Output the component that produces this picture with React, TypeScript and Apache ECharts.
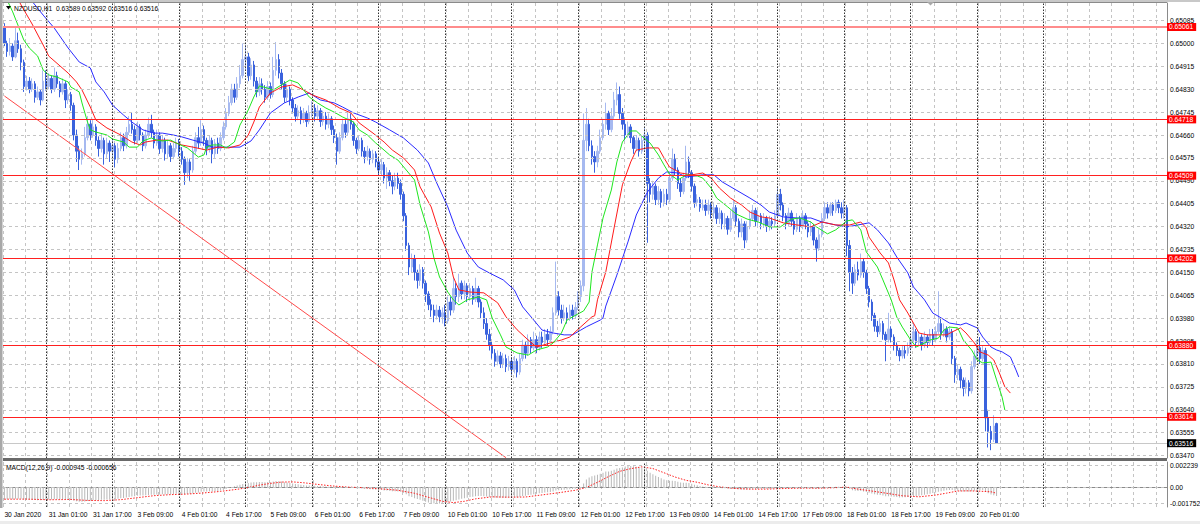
import React, { useEffect, useRef } from "react";
import * as echarts from "echarts";

// ---------------- axis / reference data ----------------
const slotCount = 420; // hourly slots on the time axis (incl. empty future area)
const xTickLabels = [
  "30 Jan 2020", "31 Jan 01:00", "31 Jan 17:00", "3 Feb 09:00", "4 Feb 01:00", "4 Feb 17:00",
  "5 Feb 09:00", "6 Feb 01:00", "6 Feb 17:00", "7 Feb 09:00", "10 Feb 01:00", "10 Feb 17:00",
  "11 Feb 09:00", "12 Feb 01:00", "12 Feb 17:00", "13 Feb 09:00", "14 Feb 01:00", "14 Feb 17:00",
  "17 Feb 09:00", "18 Feb 01:00", "18 Feb 17:00", "19 Feb 09:00", "20 Feb 01:00",
];
const daySeparators = [15, 39, 63, 87, 111, 135, 159, 183, 207, 231, 255, 279, 303, 327, 351, 375];
const priceTicks = [
  0.65085, 0.65, 0.64915, 0.6483, 0.64745, 0.6466, 0.64575, 0.6449, 0.64405, 0.6432,
  0.64235, 0.6415, 0.64065, 0.6398, 0.63895, 0.6381, 0.63725, 0.6364, 0.63555, 0.6347,
];
const topLevel = 0.65061; // highlighted (selected) level
const redLevels = [0.64718, 0.64509, 0.64202, 0.6388, 0.63614];
const bidLevel = 0.63516;
const macdTicks = [0.002239, 0, -0.001752];
const macdTickLabels = ["0.002239", "0.00", "-0.001752"];

// ---------------- candles per day: [open, close, low, high] ----------------
const d30Jan = [[0.6506,0.65,0.6499,0.65075],[0.65,0.6497,0.6495,0.6501],[0.6497,0.6499,0.64955,0.6502],[0.6499,0.6495,0.64935,0.65],[0.6495,0.6501,0.64945,0.6506],[0.6501,0.6498,0.64965,0.6504],[0.6498,0.6493,0.649,0.64995],[0.6493,0.6484,0.6482,0.6494],[0.6484,0.6486,0.64825,0.6488],[0.6486,0.6483,0.64815,0.64875],[0.6483,0.6485,0.6482,0.6487],[0.6485,0.648,0.6478,0.6486],[0.648,0.6482,0.6479,0.6484],[0.6482,0.6479,0.6477,0.6483],[0.6479,0.6486,0.64785,0.649]];
const d31Jan = [[0.6486,0.6484,0.64825,0.649],[0.6484,0.6487,0.6483,0.6489],[0.6487,0.6483,0.64815,0.6488],[0.6483,0.6488,0.6482,0.6491],[0.6488,0.6485,0.64835,0.64895],[0.6485,0.6482,0.648,0.6486],[0.6482,0.6485,0.6481,0.6487],[0.6485,0.6479,0.6476,0.6486],[0.6479,0.6481,0.64775,0.6483],[0.6481,0.6477,0.6475,0.6482],[0.6477,0.6466,0.6464,0.6478],[0.6466,0.646,0.6456,0.6468],[0.646,0.6457,0.6453,0.6462],[0.6457,0.6459,0.6455,0.6461],[0.6459,0.6465,0.6458,0.6469],[0.6465,0.647,0.6464,0.6473],[0.647,0.6466,0.6464,0.64715],[0.6466,0.6469,0.6465,0.6472],[0.6469,0.6464,0.6462,0.647],[0.6464,0.6461,0.6458,0.64655],[0.6461,0.6464,0.64595,0.64665],[0.6464,0.6459,0.6455,0.6465],[0.6459,0.6463,0.64575,0.6465],[0.6463,0.646,0.6456,0.6464]];
const d03Feb = [[0.646,0.6462,0.6458,0.64645],[0.6462,0.6457,0.6454,0.6463],[0.6457,0.6461,0.64555,0.6463],[0.6461,0.6465,0.646,0.6467],[0.6465,0.6462,0.646,0.64665],[0.6462,0.6467,0.6461,0.6469],[0.6467,0.647,0.6466,0.6473],[0.647,0.6468,0.64665,0.64745],[0.6468,0.6464,0.64625,0.64695],[0.6464,0.6469,0.6463,0.6471],[0.6469,0.6466,0.6464,0.647],[0.6466,0.6462,0.646,0.6467],[0.6462,0.6466,0.6461,0.6468],[0.6466,0.647,0.6465,0.64725],[0.647,0.6467,0.6465,0.64735],[0.6467,0.6463,0.6461,0.6468],[0.6463,0.6466,0.6462,0.6468],[0.6466,0.6461,0.6459,0.6467],[0.6461,0.6464,0.64595,0.6466],[0.6464,0.6459,0.64565,0.6465],[0.6459,0.6462,0.64575,0.6464],[0.6462,0.6458,0.6456,0.6463],[0.6458,0.6461,0.6457,0.6463],[0.6461,0.6463,0.64595,0.6465]];
const d04Feb = [[0.6463,0.646,0.6458,0.64645],[0.646,0.6457,0.6455,0.64615],[0.6457,0.6452,0.64475,0.6458],[0.6452,0.6456,0.645,0.64575],[0.6456,0.6453,0.6449,0.6457],[0.6453,0.646,0.6452,0.6462],[0.646,0.6465,0.6459,0.6467],[0.6465,0.6463,0.6461,0.6469],[0.6463,0.6468,0.6462,0.64715],[0.6468,0.6464,0.6462,0.64695],[0.6464,0.6461,0.64585,0.6465],[0.6461,0.6464,0.64595,0.6466],[0.6464,0.6459,0.64555,0.6465],[0.6459,0.6463,0.64575,0.64645],[0.6463,0.6461,0.6459,0.6465],[0.6461,0.6465,0.646,0.6467],[0.6465,0.6469,0.6464,0.6471],[0.6469,0.6474,0.6468,0.6476],[0.6474,0.6478,0.6473,0.64805],[0.6478,0.6483,0.6477,0.6485],[0.6483,0.648,0.6478,0.6485],[0.648,0.6485,0.6479,0.64875],[0.6485,0.6488,0.64835,0.6492],[0.6488,0.6494,0.6487,0.65]];
const d05Feb = [[0.6494,0.6495,0.649,0.64995],[0.6495,0.6488,0.6486,0.64965],[0.6488,0.6492,0.64865,0.64945],[0.6492,0.6486,0.6484,0.64935],[0.6486,0.6482,0.648,0.64875],[0.6482,0.6485,0.64805,0.64875],[0.6485,0.6483,0.6481,0.6487],[0.6483,0.648,0.6478,0.64845],[0.648,0.6484,0.6479,0.6486],[0.6484,0.6481,0.64795,0.64855],[0.6481,0.649,0.648,0.6495],[0.649,0.6494,0.6488,0.65005],[0.6494,0.6489,0.6487,0.6496],[0.6489,0.6485,0.6483,0.64905],[0.6485,0.648,0.6478,0.6486],[0.648,0.6483,0.64785,0.6485],[0.6483,0.6479,0.6477,0.6484],[0.6479,0.6476,0.6474,0.648],[0.6476,0.6473,0.6471,0.64775],[0.6473,0.6475,0.64715,0.6477],[0.6475,0.6472,0.647,0.64765],[0.6472,0.6474,0.64705,0.6476],[0.6474,0.6471,0.6469,0.6475],[0.6471,0.6474,0.647,0.6477]];
const d06Feb = [[0.6474,0.6476,0.64725,0.64785],[0.6476,0.6473,0.6471,0.64775],[0.6473,0.6475,0.64715,0.6477],[0.6475,0.6471,0.6469,0.6476],[0.6471,0.6473,0.64695,0.6475],[0.6473,0.647,0.6468,0.64745],[0.647,0.6472,0.64685,0.6474],[0.6472,0.6468,0.6466,0.6473],[0.6468,0.6465,0.6463,0.64695],[0.6465,0.646,0.6455,0.64665],[0.646,0.6465,0.6459,0.6467],[0.6465,0.647,0.6464,0.6472],[0.647,0.6467,0.6465,0.64715],[0.6467,0.6472,0.6466,0.64745],[0.6472,0.647,0.6468,0.6474],[0.647,0.6464,0.6462,0.6471],[0.6464,0.6461,0.6459,0.6465],[0.6461,0.6464,0.646,0.6466],[0.6464,0.646,0.6458,0.6465],[0.646,0.6458,0.64555,0.64615],[0.6458,0.646,0.64565,0.6462],[0.646,0.6457,0.6455,0.6461],[0.6457,0.6459,0.64555,0.64605],[0.6459,0.6456,0.6454,0.646]];
const d07Feb = [[0.6456,0.6453,0.6451,0.64575],[0.6453,0.6455,0.6451,0.6457],[0.6455,0.645,0.6448,0.6456],[0.645,0.6452,0.6446,0.6454],[0.6452,0.6449,0.6447,0.6453],[0.6449,0.6447,0.6444,0.6451],[0.6447,0.645,0.64455,0.6452],[0.645,0.6448,0.6446,0.6452],[0.6448,0.6444,0.6442,0.64495],[0.6444,0.6436,0.6434,0.6445],[0.6436,0.6425,0.6423,0.6437],[0.6425,0.6417,0.6414,0.6426],[0.6417,0.642,0.6415,0.6422],[0.642,0.6415,0.6412,0.64215],[0.6415,0.6412,0.6409,0.6416],[0.6412,0.6416,0.641,0.6418],[0.6416,0.6411,0.6409,0.6417],[0.6411,0.6407,0.6404,0.6412],[0.6407,0.6403,0.6401,0.6408],[0.6403,0.6401,0.63985,0.6405],[0.6401,0.6399,0.63965,0.6403],[0.6399,0.6401,0.63975,0.6403],[0.6401,0.63985,0.63965,0.64025],[0.63985,0.64,0.6396,0.6402]];
const d10Feb = [[0.64,0.6397,0.6395,0.6403],[0.6397,0.6404,0.6396,0.6406],[0.6404,0.6401,0.6399,0.6406],[0.6401,0.6409,0.64,0.6413],[0.6409,0.6406,0.6403,0.6411],[0.6406,0.6411,0.6404,0.64145],[0.6411,0.6407,0.6405,0.6412],[0.6407,0.641,0.6405,0.6412],[0.641,0.6406,0.6404,0.6411],[0.6406,0.6409,0.64045,0.6411],[0.6409,0.6405,0.6403,0.641],[0.6405,0.6409,0.6404,0.6413],[0.6409,0.6404,0.6402,0.641],[0.6404,0.64,0.6398,0.6405],[0.64,0.6396,0.6394,0.6402],[0.6396,0.6392,0.639,0.6398],[0.6392,0.6388,0.6386,0.6394],[0.6388,0.6385,0.6383,0.63895],[0.6385,0.6382,0.638,0.63865],[0.6382,0.6384,0.63805,0.6386],[0.6384,0.6381,0.63795,0.63855],[0.6381,0.6383,0.63795,0.6385],[0.6383,0.638,0.6378,0.63845],[0.638,0.6382,0.63785,0.6384]];
const d11Feb = [[0.6382,0.6379,0.6377,0.63835],[0.6379,0.6382,0.63775,0.6384],[0.6382,0.6378,0.6376,0.6383],[0.6378,0.6383,0.6377,0.6385],[0.6383,0.6388,0.6382,0.639],[0.6388,0.6385,0.6383,0.63895],[0.6385,0.639,0.6384,0.6392],[0.639,0.6387,0.6385,0.6391],[0.6387,0.639,0.6386,0.6393],[0.639,0.6387,0.6385,0.63915],[0.6387,0.6391,0.6386,0.6393],[0.6391,0.6389,0.6387,0.6393],[0.6389,0.6392,0.6388,0.6394],[0.6392,0.639,0.6388,0.6394],[0.639,0.6393,0.6389,0.6395],[0.6393,0.64,0.6392,0.6402],[0.64,0.6406,0.6399,0.6419],[0.6406,0.6401,0.6399,0.6408],[0.6401,0.6398,0.6396,0.6403],[0.6398,0.64,0.6397,0.6403],[0.64,0.6398,0.6396,0.6402],[0.6398,0.6401,0.6397,0.6403],[0.6401,0.6399,0.63975,0.6403],[0.6399,0.6402,0.6398,0.6404]];
const d12Feb = [[0.6402,0.6406,0.6401,0.6408],[0.6406,0.641,0.6404,0.6412],[0.641,0.6464,0.6408,0.6474],[0.6464,0.647,0.646,0.6476],[0.647,0.6462,0.646,0.6472],[0.6462,0.6458,0.6455,0.6464],[0.6458,0.6456,0.6452,0.646],[0.6456,0.646,0.6454,0.6462],[0.646,0.6465,0.6459,0.6468],[0.6465,0.647,0.6464,0.6472],[0.647,0.6474,0.6468,0.6478],[0.6474,0.6468,0.6466,0.6475],[0.6468,0.6473,0.6467,0.6476],[0.6473,0.6479,0.6472,0.6482],[0.6479,0.6481,0.6477,0.64855],[0.6481,0.6474,0.6472,0.6484],[0.6474,0.647,0.6468,0.6476],[0.647,0.6466,0.6464,0.6472],[0.6466,0.6469,0.6465,0.6471],[0.6469,0.6465,0.6463,0.647],[0.6465,0.6461,0.6459,0.6466],[0.6461,0.6464,0.646,0.6466],[0.6464,0.646,0.6458,0.6465],[0.646,0.6464,0.6459,0.6466]];
const d13Feb = [[0.6464,0.6466,0.646,0.6469],[0.6466,0.6448,0.6426,0.6467],[0.6448,0.6444,0.6441,0.645],[0.6444,0.6447,0.6442,0.6449],[0.6447,0.6442,0.644,0.6448],[0.6442,0.6445,0.644,0.6447],[0.6445,0.6441,0.6439,0.6446],[0.6441,0.6444,0.64395,0.6446],[0.6444,0.6442,0.644,0.6446],[0.6442,0.645,0.6441,0.6452],[0.645,0.6457,0.6449,0.6461],[0.6457,0.6453,0.6451,0.6459],[0.6453,0.6448,0.6446,0.6454],[0.6448,0.6445,0.6443,0.645],[0.6445,0.645,0.6444,0.6452],[0.645,0.6456,0.6449,0.6462],[0.6456,0.6452,0.645,0.6458],[0.6452,0.6447,0.6445,0.6453],[0.6447,0.6441,0.6439,0.6448],[0.6441,0.6442,0.64395,0.6444],[0.6442,0.6439,0.64375,0.6443],[0.6439,0.644,0.6438,0.6442],[0.644,0.6438,0.6436,0.6442],[0.6438,0.644,0.64365,0.6442]];
const d14Feb = [[0.644,0.6437,0.6435,0.6441],[0.6437,0.6439,0.6435,0.6441],[0.6439,0.6435,0.6433,0.644],[0.6435,0.6437,0.6433,0.6439],[0.6437,0.6433,0.6431,0.6438],[0.6433,0.6435,0.6431,0.6437],[0.6435,0.6431,0.6429,0.6436],[0.6431,0.6435,0.643,0.6438],[0.6435,0.6439,0.6434,0.6442],[0.6439,0.6434,0.6432,0.644],[0.6434,0.643,0.6428,0.6435],[0.643,0.6433,0.6428,0.6435],[0.6433,0.6427,0.6424,0.6434],[0.6427,0.6432,0.6426,0.6434],[0.6432,0.6435,0.6431,0.6438],[0.6435,0.6438,0.6434,0.644],[0.6438,0.6434,0.6432,0.6439],[0.6434,0.6436,0.6432,0.6438],[0.6436,0.6433,0.6431,0.6437],[0.6433,0.6435,0.64315,0.6437],[0.6435,0.6432,0.643,0.6436],[0.6432,0.6434,0.64305,0.6436],[0.6434,0.6433,0.6431,0.64355],[0.6433,0.6436,0.6432,0.6438]];
const d17Feb = [[0.6436,0.6444,0.6435,0.6447],[0.6444,0.644,0.6438,0.6446],[0.644,0.6436,0.6434,0.6441],[0.6436,0.6433,0.6431,0.6437],[0.6433,0.6437,0.6432,0.6439],[0.6437,0.6434,0.6432,0.6438],[0.6434,0.6431,0.6429,0.6435],[0.6431,0.6435,0.643,0.6437],[0.6435,0.6432,0.643,0.6436],[0.6432,0.6436,0.6431,0.6438],[0.6436,0.6433,0.6431,0.6437],[0.6433,0.643,0.6428,0.6434],[0.643,0.6432,0.64285,0.6434],[0.6432,0.6427,0.6425,0.6433],[0.6427,0.6424,0.6419,0.6428],[0.6424,0.6429,0.6423,0.6431],[0.6429,0.6435,0.6428,0.6437],[0.6435,0.6439,0.6434,0.6441],[0.6439,0.6437,0.6435,0.6441],[0.6437,0.644,0.6436,0.6441],[0.644,0.6438,0.6436,0.6441],[0.6438,0.6441,0.6437,0.6442],[0.6441,0.6439,0.6437,0.6442],[0.6439,0.6437,0.6435,0.6441]];
const d18Feb = [[0.6437,0.6439,0.6435,0.6442],[0.6439,0.6425,0.6421,0.644],[0.6425,0.6415,0.6408,0.6427],[0.6415,0.6411,0.6407,0.6417],[0.6411,0.6416,0.641,0.6418],[0.6416,0.6414,0.6412,0.6419],[0.6414,0.6419,0.6413,0.6422],[0.6419,0.6415,0.6413,0.642],[0.6415,0.6409,0.6407,0.6416],[0.6409,0.6404,0.6402,0.641],[0.6404,0.6399,0.6397,0.6405],[0.6399,0.6395,0.6393,0.64],[0.6395,0.6393,0.6391,0.6397],[0.6393,0.6396,0.6392,0.6398],[0.6396,0.6392,0.639,0.6397],[0.6392,0.639,0.6382,0.6393],[0.639,0.6394,0.6389,0.64],[0.6394,0.6391,0.6389,0.6395],[0.6391,0.6388,0.6386,0.6392],[0.6388,0.6386,0.6384,0.6389],[0.6386,0.6384,0.6382,0.6387],[0.6384,0.6386,0.6383,0.6388],[0.6386,0.6385,0.6383,0.6388],[0.6385,0.6387,0.6384,0.6389]];
const d19Feb = [[0.6387,0.639,0.6386,0.6392],[0.639,0.6393,0.6389,0.6396],[0.6393,0.6389,0.6387,0.6394],[0.6389,0.6391,0.6388,0.6393],[0.6391,0.6388,0.6386,0.6392],[0.6388,0.6391,0.6387,0.6393],[0.6391,0.6389,0.6387,0.6392],[0.6389,0.6392,0.6388,0.6394],[0.6392,0.639,0.6388,0.6394],[0.639,0.6393,0.6389,0.6395],[0.6393,0.6396,0.6392,0.6408],[0.6396,0.6392,0.639,0.6398],[0.6392,0.6394,0.6391,0.6396],[0.6394,0.6391,0.6389,0.6395],[0.6391,0.6393,0.639,0.6395],[0.6393,0.6383,0.6381,0.6394],[0.6383,0.6377,0.6374,0.6384],[0.6377,0.6379,0.6375,0.6381],[0.6379,0.6375,0.6372,0.638],[0.6375,0.6372,0.6369,0.6376],[0.6372,0.6374,0.637,0.6376],[0.6374,0.6371,0.6369,0.6375],[0.6371,0.638,0.637,0.6382],[0.638,0.6384,0.6379,0.6386]];
const d20Feb = [[0.6384,0.6387,0.6383,0.639],[0.6387,0.6383,0.6381,0.6391],[0.6383,0.6386,0.6382,0.6388],[0.6386,0.6361,0.6356,0.6387],[0.6361,0.6356,0.635,0.6364],[0.6356,0.6353,0.6349,0.6358],[0.6353,0.6358,0.6352,0.6362],[0.63589,0.63516,0.63516,0.63592]];

// ---------------- Alligator: [bar index, price] ----------------
const jawBlue = [[0,0.65283],[9,0.65169],[14,0.65105],[18,0.65057],[23,0.64983],[27,0.64931],[31,0.64909],[33,0.64857],[36,0.6482],[39,0.64771],[43,0.64734],[46,0.64708],[50,0.64679],[54,0.64667],[57,0.64667],[61,0.6466],[64,0.64653],[68,0.64641],[72,0.6463],[75,0.64615],[80,0.64615],[85,0.64615],[89,0.64638],[92,0.64679],[96,0.64742],[101,0.64779],[106,0.64801],[110,0.64816],[114,0.6479],[119,0.64779],[122,0.64764],[126,0.64742],[131,0.64723],[134,0.64708],[139,0.64679],[144,0.64649],[149,0.64604],[153,0.64556],[156,0.64482],[160,0.64393],[163,0.64307],[167,0.64222],[171,0.6417],[175,0.64148],[180,0.64122],[184,0.64085],[187,0.64022],[191,0.63973],[194,0.63936],[198,0.63925],[202,0.63918],[205,0.63918],[208,0.63936],[210,0.63948],[215,0.63973],[216,0.63981],[217,0.64025],[221,0.6414],[225,0.64263],[228,0.64363],[232,0.64448],[236,0.645],[239,0.64523],[243,0.64519],[246,0.64504],[252,0.64512],[256,0.64512],[259,0.64486],[264,0.64456],[269,0.64426],[273,0.644],[276,0.64374],[281,0.64356],[286,0.64352],[291,0.64352],[295,0.64337],[300,0.64326],[304,0.64319],[308,0.64326],[312,0.64334],[315,0.64308],[319,0.64259],[322,0.64207],[326,0.64148],[328,0.64096],[332,0.64048],[335,0.63999],[338,0.63981],[341,0.63962],[345,0.63955],[347,0.63962],[351,0.63944],[353,0.6391],[356,0.63873],[358,0.63862],[360,0.63855],[363,0.63836],[365,0.63788],[366,0.63762]];
const teethRed = [[0,0.65261],[6,0.65143],[10,0.65072],[14,0.64994],[16,0.64953],[23,0.6489],[26,0.64857],[28,0.64827],[31,0.64764],[33,0.64716],[37,0.64686],[42,0.6466],[46,0.64634],[49,0.64623],[51,0.64634],[55,0.64641],[59,0.64641],[61,0.64634],[64,0.64623],[68,0.64615],[73,0.64604],[77,0.64615],[81,0.64612],[85,0.64623],[88,0.6466],[90,0.64708],[92,0.64764],[96,0.64816],[100,0.64838],[104,0.64846],[108,0.64827],[111,0.64809],[116,0.6479],[121,0.6476],[125,0.64742],[128,0.64705],[133,0.64667],[137,0.64634],[140,0.64604],[144,0.64575],[148,0.6453],[150,0.64467],[154,0.64393],[157,0.64296],[160,0.64222],[162,0.64133],[164,0.64085],[168,0.64077],[173,0.64074],[175,0.64059],[178,0.64037],[181,0.63985],[185,0.63937],[189,0.63899],[192,0.63873],[197,0.63888],[201,0.63899],[204,0.6391],[208,0.63948],[212,0.63985],[213,0.63989],[214,0.64048],[217,0.64152],[220,0.64315],[223,0.64475],[226,0.6456],[228,0.64604],[232,0.64612],[236,0.64612],[238,0.64575],[240,0.64541],[244,0.64519],[248,0.64512],[252,0.64519],[255,0.645],[258,0.64463],[262,0.64426],[266,0.644],[269,0.64374],[273,0.64356],[276,0.64352],[281,0.64334],[286,0.64326],[291,0.64319],[295,0.64337],[300,0.64326],[305,0.64326],[309,0.64337],[311,0.64315],[312,0.64281],[316,0.64222],[319,0.64185],[321,0.64122],[323,0.64048],[326,0.63999],[328,0.63962],[330,0.63925],[333,0.63918],[337,0.63918],[340,0.63918],[342,0.63929],[345,0.63944],[347,0.63925],[350,0.63888],[352,0.63855],[355,0.63843],[357,0.63825],[359,0.63777],[361,0.63725],[363,0.63702]];
const lipsGreen = [[0,0.65183],[3,0.65117],[5,0.65065],[7,0.65013],[9,0.64983],[12,0.64953],[14,0.64901],[16,0.64883],[19,0.64875],[23,0.64857],[24,0.64838],[27,0.6482],[28,0.64779],[30,0.64708],[31,0.64679],[33,0.64671],[37,0.6466],[39,0.64645],[43,0.64634],[45,0.64615],[48,0.64615],[50,0.64638],[53,0.64649],[55,0.64641],[57,0.64638],[60,0.64641],[62,0.6463],[66,0.64612],[70,0.64578],[72,0.64586],[73,0.64615],[75,0.64623],[78,0.64623],[80,0.64612],[83,0.64634],[85,0.64697],[88,0.64753],[90,0.64801],[92,0.64842],[95,0.64834],[97,0.64827],[100,0.64846],[103,0.64864],[106,0.64853],[108,0.64827],[110,0.64801],[113,0.64779],[116,0.6476],[119,0.64745],[122,0.64727],[126,0.64708],[128,0.64679],[131,0.6466],[134,0.6463],[137,0.64604],[139,0.64586],[142,0.64567],[145,0.6453],[148,0.64493],[150,0.644],[153,0.643],[155,0.64203],[157,0.64133],[160,0.64077],[162,0.64048],[164,0.64029],[167,0.64048],[171,0.64059],[174,0.64048],[176,0.63981],[179,0.63918],[181,0.63873],[185,0.63851],[189,0.63843],[192,0.63862],[196,0.63873],[198,0.63888],[201,0.63925],[203,0.63973],[207,0.63996],[209,0.64007],[211,0.6404],[212,0.64151],[214,0.64252],[216,0.64352],[219,0.64456],[221,0.6456],[223,0.64634],[226,0.64675],[228,0.64675],[230,0.64656],[233,0.6463],[236,0.64586],[238,0.64549],[240,0.64515],[243,0.64493],[246,0.64512],[250,0.64508],[252,0.645],[255,0.64463],[257,0.64426],[261,0.64393],[264,0.64367],[268,0.64348],[272,0.64337],[276,0.64319],[280,0.64319],[284,0.64348],[287,0.64352],[291,0.64337],[293,0.64319],[297,0.64293],[300,0.64308],[304,0.64341],[306,0.64345],[309,0.64308],[311,0.64226],[315,0.6417],[317,0.64122],[320,0.64048],[322,0.63984],[324,0.63947],[327,0.63899],[329,0.63873],[332,0.63888],[334,0.63899],[337,0.63906],[339,0.63936],[341,0.63947],[344,0.63944],[346,0.63899],[349,0.63862],[351,0.63825],[353,0.63814],[356,0.63817],[358,0.63751],[360,0.63687],[361,0.63639]];
const trendLine = [[0, 0.64805], [181, 0.63462]];

// ---------------- MACD(12,26,9) main per bar, per day ----------------
const m30Jan = [-0.0013,-0.00128,-0.00127,-0.00128,-0.00124,-0.00123,-0.00124,-0.0013,-0.00133,-0.00134,-0.00135,-0.00137,-0.00139,-0.0014,-0.00136];
const m31Jan = [-0.00134,-0.00132,-0.00132,-0.00129,-0.00129,-0.0013,-0.00129,-0.00131,-0.00132,-0.00134,-0.00141,-0.00149,-0.00154,-0.00155,-0.00152,-0.00146,-0.00143,-0.00139,-0.00138,-0.00137,-0.00135,-0.00134,-0.00132,-0.00131];
const m03Feb = [-0.00128,-0.00128,-0.00124,-0.00118,-0.00115,-0.0011,-0.00104,-0.001,-0.00098,-0.00093,-0.0009,-0.0009,-0.00087,-0.00083,-0.00081,-0.00081,-0.00078,-0.00079,-0.00077,-0.00078,-0.00075,-0.00076,-0.00073,-0.0007];
const m04Feb = [-0.0007,-0.00071,-0.00074,-0.00073,-0.00073,-0.00068,-0.00061,-0.00057,-0.0005,-0.00048,-0.00048,-0.00045,-0.00046,-0.00043,-0.00042,-0.00037,-0.0003,-0.0002,-0.0001,0.00001,0.00007,0.00015,0.00023,0.00033];
const m05Feb = [0.0004,0.00042,0.00048,0.0005,0.0005,0.00052,0.00052,0.0005,0.00052,0.0005,0.00057,0.00062,0.00061,0.00058,0.00051,0.00048,0.00043,0.00037,0.00031,0.00028,0.00023,0.00021,0.00017,0.00017];
const m06Feb = [0.00014,0.00013,0.00011,0.0001,0.00007,0.00006,0.00003,0.00002,-0.00002,-0.00008,-0.00008,-0.00006,-0.00006,-0.00003,-0.00003,-0.00007,-0.00012,-0.00013,-0.00016,-0.0002,-0.00022,-0.00024,-0.00027,-0.00028];
const m07Feb = [-0.00031,-0.00032,-0.00036,-0.00037,-0.0004,-0.00044,-0.00044,-0.00046,-0.0005,-0.0006,-0.00076,-0.00096,-0.00106,-0.00118,-0.00125,-0.00135,-0.00145,-0.00155,-0.00162,-0.00168,-0.00172,-0.00175,-0.00174,-0.00172];
const m10Feb = [-0.00165,-0.0016,-0.00152,-0.00145,-0.00138,-0.0013,-0.00124,-0.00117,-0.00112,-0.00106,-0.00102,-0.00096,-0.00094,-0.00094,-0.00096,-0.001,-0.00105,-0.00109,-0.00113,-0.00113,-0.00114,-0.00112,-0.00112,-0.0011];
const m11Feb = [-0.0011,-0.00107,-0.00107,-0.00102,-0.00095,-0.00091,-0.00084,-0.0008,-0.00075,-0.00072,-0.00066,-0.00063,-0.00058,-0.00056,-0.00052,-0.00046,-0.00036,-0.00033,-0.00032,-0.00028,-0.00027,-0.00024,-0.00022,-0.00018];
const m12Feb = [-0.00013,-0.00007,0.00038,0.00078,0.001,0.00114,0.00122,0.0013,0.00139,0.0015,0.00162,0.00163,0.0017,0.00182,0.00194,0.002,0.00205,0.00216,0.00223,0.00221,0.00218,0.00212,0.00204,0.002];
const m13Feb = [0.00195,0.0017,0.0015,0.00135,0.00118,0.00105,0.00092,0.0008,0.0007,0.00066,0.00066,0.00062,0.00055,0.00047,0.00045,0.00046,0.00042,0.00035,0.00025,0.00018,0.00012,0.00006,0.00002,-0.00001];
const m14Feb = [-0.00004,-0.00006,-0.00009,-0.0001,-0.00013,-0.00014,-0.00017,-0.00022,-0.0002,-0.00021,-0.00024,-0.00025,-0.00027,-0.00026,-0.00024,-0.00021,-0.0002,-0.00019,-0.00019,-0.00018,-0.00018,-0.00017,-0.00017,-0.00014];
const m17Feb = [-0.00008,-0.00007,-0.00008,-0.0001,-0.00009,-0.0001,-0.00012,-0.00011,-0.00012,-0.0001,-0.00011,-0.00013,-0.00012,-0.00015,-0.00018,-0.00015,-0.0001,-0.00005,-0.00003,0,0,0.00002,0.00002,0.00001];
const m18Feb = [0.00002,-0.00008,-0.00022,-0.00033,-0.00038,-0.00042,-0.00043,-0.00047,-0.00053,-0.0006,-0.00068,-0.00075,-0.00082,-0.00085,-0.0009,-0.00096,-0.00096,-0.00099,-0.00103,-0.00106,-0.00109,-0.00108,-0.00108,-0.00106];
const m19Feb = [-0.00105,-0.001,-0.00096,-0.00091,-0.00087,-0.00081,-0.00076,-0.0007,-0.00064,-0.00058,-0.0005,-0.00044,-0.00038,-0.00034,-0.0003,-0.00032,-0.00038,-0.0004,-0.00044,-0.00048,-0.00048,-0.0005,-0.00044,-0.00038];
const m20Feb = [-0.00034,-0.00034,-0.00032,-0.0005,-0.00066,-0.00079,-0.00086,-0.000945];
const macdSignal = [[0,-0.00128],[8,-0.00127],[16,-0.00134],[24,-0.00131],[30,-0.00141],[36,-0.00143],[42,-0.00133],[48,-0.00112],[54,-0.00091],[60,-0.0008],[66,-0.00074],[72,-0.00062],[78,-0.00046],[84,-0.00024],[88,-0.00005],[92,0.0002],[96,0.00038],[100,0.00052],[104,0.00054],[108,0.00045],[112,0.00031],[118,0.00012],[124,-0.00001],[130,-0.00007],[136,-0.0002],[142,-0.00034],[148,-0.00066],[154,-0.00116],[158,-0.0015],[162,-0.00164],[166,-0.0015],[170,-0.00124],[176,-0.00103],[182,-0.00107],[188,-0.00105],[194,-0.00083],[200,-0.0006],[206,-0.00034],[210,-0.00005],[214,0.0005],[218,0.0011],[222,0.00165],[226,0.00193],[230,0.00212],[234,0.00194],[238,0.0015],[242,0.00105],[246,0.0007],[250,0.0005],[254,0.00022],[258,0.00002],[264,-0.00016],[270,-0.00023],[276,-0.00021],[282,-0.00015],[288,-0.00011],[294,-0.00012],[300,-0.00007],[304,-0.00001],[308,-0.00022],[312,-0.00038],[318,-0.00064],[324,-0.00092],[330,-0.00103],[336,-0.00085],[340,-0.00064],[344,-0.00042],[348,-0.0004],[352,-0.00044],[356,-0.0005],[358,-0.000656]];

// ---------------- assembled ----------------
const candles = [...d30Jan, ...d31Jan, ...d03Feb, ...d04Feb, ...d05Feb, ...d06Feb, ...d07Feb, ...d10Feb, ...d11Feb, ...d12Feb, ...d13Feb, ...d14Feb, ...d17Feb, ...d18Feb, ...d19Feb, ...d20Feb];
const macdMain = [...m30Jan, ...m31Jan, ...m03Feb, ...m04Feb, ...m05Feb, ...m06Feb, ...m07Feb, ...m10Feb, ...m11Feb, ...m12Feb, ...m13Feb, ...m14Feb, ...m17Feb, ...m18Feb, ...m19Feb, ...m20Feb];
const slots = Array.from({ length: slotCount }, (_, i) => String(i));

const FONT = "'Liberation Sans', Arial, sans-serif";
const FS = 6.7;
const GRID_DASH = { color: "#c4c4c4", type: [3, 3] as number[], width: 1 };
const SEP_STYLE = { color: "#303030", type: [1.5, 1.5] as number[], width: 1 };

// invisible carrier series for mark lines (numeric data keeps value dimensions numeric)
function carrier(gridIdx: number, anchor: number, z: number, lineStyle: any, data: any[], label?: any) {
  return {
    type: "line", xAxisIndex: gridIdx, yAxisIndex: gridIdx, z, silent: true,
    data: [[0, anchor]], symbol: "none", showSymbol: false,
    lineStyle: { opacity: 0 },
    markLine: {
      precision: 8, silent: true, symbol: ["none", "none"], animation: false,
      lineStyle, data, label: label || { show: false },
      emphasis: { disabled: true },
    },
  };
}

function buildOption() {
  const last = candles[candles.length - 1];
  const title = `NZDUSD,H1  ${last[0].toFixed(5)} ${last[3].toFixed(5)} ${last[2].toFixed(5)} ${last[1].toFixed(5)}`;
  const macdTitle = `MACD(12,26,9) ${macdMain[macdMain.length - 1].toFixed(6)} ${macdSignal[macdSignal.length - 1][1].toFixed(6)}`;

  const tickLabel = (txt: string) => ({
    show: true, position: "end", distance: 3, formatter: txt,
    color: "#000", fontSize: FS, fontFamily: FONT,
  });
  const boxLabel = (txt: string, bg: string) => ({
    show: true, position: "end", distance: 0, formatter: txt,
    color: "#fff", backgroundColor: bg, padding: [1, 3, 0, 2],
    fontSize: FS, fontFamily: FONT,
  });

  return {
    animation: false,
    backgroundColor: "#ffffff",
    grid: [
      { left: 3, right: 33, top: 3, height: 455 },
      { left: 3, right: 33, top: 462, height: 45 },
    ],
    xAxis: [
      {
        type: "category", gridIndex: 0, data: slots, boundaryGap: true,
        axisLine: { show: false }, axisTick: { show: false }, axisLabel: { show: false },
        splitLine: { show: true, interval: 7, lineStyle: GRID_DASH },
      },
      {
        type: "category", gridIndex: 1, data: slots, boundaryGap: true,
        axisLine: { show: true, lineStyle: { color: "#8a8a8a", width: 1 } },
        axisTick: { show: false },
        axisLabel: {
          show: true, interval: 15, align: "left", margin: 4, color: "#000",
          fontSize: FS, fontFamily: FONT,
          formatter: (_v: string, idx: number) => (idx % 16 === 0 && xTickLabels[idx / 16]) || "",
        },
        splitLine: { show: true, interval: 7, lineStyle: GRID_DASH },
      },
    ],
    yAxis: [
      {
        type: "value", gridIndex: 0, position: "right", min: 0.63461, max: 0.6515,
        axisLine: { show: true, lineStyle: { color: "#8a8a8a", width: 1 } },
        axisTick: { show: false }, axisLabel: { show: false }, splitLine: { show: false },
      },
      {
        type: "value", gridIndex: 1, position: "right", min: -0.0021, max: 0.00263,
        axisLine: { show: true, lineStyle: { color: "#8a8a8a", width: 1 } },
        axisTick: { show: false }, axisLabel: { show: false }, splitLine: { show: false },
      },
    ],
    series: [
      carrier(0, 0.64, 1, GRID_DASH,
        priceTicks.map((v) => ({ yAxis: v, label: tickLabel(v.toFixed(5)) }))),
      carrier(0, 0.64, 2, SEP_STYLE, daySeparators.map((i) => ({ xAxis: i }))),
      {
        name: "NZDUSD", type: "candlestick", xAxisIndex: 0, yAxisIndex: 0, z: 3,
        barWidth: 2, data: candles,
        itemStyle: {
          color: "#a6b9f0", color0: "#3a62dd", borderColor: "#a6b9f0", borderColor0: "#3a62dd",
          borderWidth: 1,
        },
      },
      {
        name: "Jaw", type: "line", xAxisIndex: 0, yAxisIndex: 0, z: 4, data: jawBlue,
        showSymbol: false, symbol: "none", lineStyle: { color: "#2a2aff", width: 1 },
      },
      {
        name: "Teeth", type: "line", xAxisIndex: 0, yAxisIndex: 0, z: 4, data: teethRed,
        showSymbol: false, symbol: "none", lineStyle: { color: "#ff1a1a", width: 1 },
      },
      {
        name: "Lips", type: "line", xAxisIndex: 0, yAxisIndex: 0, z: 4, data: lipsGreen,
        showSymbol: false, symbol: "none", lineStyle: { color: "#1ee61e", width: 1 },
      },
      {
        name: "Trend", type: "line", xAxisIndex: 0, yAxisIndex: 0, z: 4, data: trendLine,
        showSymbol: false, symbol: "none", lineStyle: { color: "#ff4a4a", width: 1 },
      },
      carrier(0, 0.64, 6, { color: "#ff8c8c", width: 2, type: "solid" },
        [{ yAxis: topLevel, label: boxLabel(topLevel.toFixed(5), "#ff0000") }]),
      carrier(0, 0.64, 6, { color: "#ff2020", width: 1, type: "solid" },
        redLevels.map((v) => ({ yAxis: v, label: boxLabel(v.toFixed(5), "#ff0000") }))),
      carrier(0, 0.64, 6, { color: "#c8c8c8", width: 1, type: "solid" },
        [{ yAxis: bidLevel, label: boxLabel(bidLevel.toFixed(5), "#000000") }]),
      carrier(1, 0, 1, GRID_DASH,
        macdTicks.map((v, k) => ({ yAxis: v, label: tickLabel(macdTickLabels[k]) }))),
      carrier(1, 0, 2, SEP_STYLE, daySeparators.map((i) => ({ xAxis: i }))),
      {
        name: "MACD", type: "bar", xAxisIndex: 1, yAxisIndex: 1, z: 3, data: macdMain,
        barWidth: 1, itemStyle: { color: "#b8b8b8" },
      },
      {
        name: "Signal", type: "line", xAxisIndex: 1, yAxisIndex: 1, z: 4, data: macdSignal,
        showSymbol: false, symbol: "none", lineStyle: { color: "#ff2020", width: 1, type: [1.5, 1.5] },
      },
    ],
    graphic: [
      { type: "rect", shape: { x: 0, y: 0, width: 1200, height: 2 }, style: { fill: "#c8c8c8" }, z: 100 },
      { type: "line", shape: { x1: 0, y1: 2.5, x2: 1167, y2: 2.5 }, style: { stroke: "#8a8a8a", lineWidth: 1 }, z: 100 },
      { type: "rect", shape: { x: 0, y: 0, width: 2.5, height: 508 }, style: { fill: "#a8a8a8" }, z: 100 },
      { type: "rect", shape: { x: 3, y: 458, width: 1164, height: 3 }, style: { fill: "#6a6a6a" }, z: 100 },
      { type: "rect", shape: { x: 0, y: 521, width: 1200, height: 3 }, style: { fill: "#ececec" }, z: 100 },
      { type: "polygon", shape: { points: [[6, 6], [11, 6], [8.5, 9.5]] }, style: { fill: "#000" }, z: 100 },
      { type: "polygon", shape: { points: [[927, 2], [934, 2], [930.5, 5.5]] }, style: { fill: "#a8a8a8" }, z: 100 },
      {
        type: "text", x: 14, y: 8, z: 100,
        style: { text: title, fill: "#000", fontSize: FS, fontFamily: FONT, verticalAlign: "middle" },
      },
      {
        type: "text", x: 6, y: 467, z: 100,
        style: { text: macdTitle, fill: "#000", fontSize: FS, fontFamily: FONT, verticalAlign: "middle" },
      },
    ],
  };
}

export default function App() {
  const ref = useRef<HTMLDivElement>(null);
  useEffect(() => {
    if (!ref.current) return;
    const chart = echarts.init(ref.current, null, { renderer: "svg" });
    chart.setOption(buildOption() as any);
    return () => chart.dispose();
  }, []);
  return (
    <div
      ref={ref}
      style={{ position: "absolute", left: 0, top: 0, width: 1200, height: 524, background: "#fff" }}
    />
  );
}
